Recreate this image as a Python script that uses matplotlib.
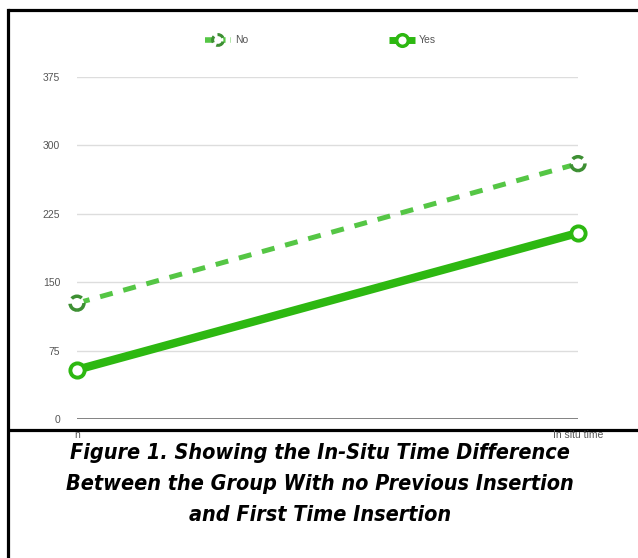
import matplotlib
matplotlib.use("Agg")
import matplotlib.pyplot as plt

# Data
categories = ["n", "In situ time"]
series_names = ["No", "Yes"]
no_values = [127, 280]
yes_values = [54, 204]
y_ticks = [0, 75, 150, 225, 300, 375]
caption_lines = [
    "Figure 1. Showing the In-Situ Time Difference",
    "Between the Group With no Previous Insertion",
    "and First Time Insertion",
]

W, H = 638, 558
fig = plt.figure(figsize=(W / 100, H / 100), dpi=100)
fig.patch.set_facecolor("white")

ax = fig.add_axes([77 / W, 1 - 419 / H, (578 - 77) / W, (419 - 77) / H])
x = list(range(len(categories)))

no_color = "#55c645"
no_edge = "#3d8f33"
yes_color = "#2db811"
no_dash = (0, (2.6, 2.2))
ring_dash = (0, (3.2, 1.6))

# "No" series: dashed line with dashed-ring markers
ax.plot(x, no_values, color=no_color, lw=3.6, linestyle=no_dash,
        dash_capstyle="butt", zorder=3, clip_on=False)
ax.scatter(x, no_values, s=100, facecolors="white", edgecolors=no_edge,
           linewidths=2.5, linestyles=ring_dash, zorder=4, clip_on=False)

# "Yes" series: thick solid line with ring markers
ax.plot(x, yes_values, color=yes_color, lw=6, solid_capstyle="round",
        zorder=3, clip_on=False)
ax.scatter(x, yes_values, s=105, facecolors="white", edgecolors=yes_color,
           linewidths=2.8, zorder=4, clip_on=False)

ax.set_xlim(0, 1)
ax.set_ylim(0, 375)
ax.set_yticks(y_ticks)
ax.set_yticklabels([str(v) for v in y_ticks])
ax.set_xticks(x)
ax.set_xticklabels(categories)
for s in ax.spines.values():
    s.set_visible(False)
ax.tick_params(axis="both", length=0, labelsize=7.5, labelcolor="#555555",
               labelfontfamily="Liberation Sans")
ax.tick_params(axis="y", pad=12)
ax.tick_params(axis="x", pad=8)
ax.grid(axis="y", color="#dddddd", lw=1)
ax.axhline(0, color="#777777", lw=2, zorder=2)
ax.set_axisbelow(True)

# Overlay in pixel units for the legend row and frame lines
lay = fig.add_axes([0, 0, 1, 1], zorder=-1)
lay.set_xlim(0, W)
lay.set_ylim(H, 0)
lay.axis("off")

legend_specs = [
    (series_names[0], 218, dict(color=no_color, lw=4, linestyle=(0, (1.4, 0.9))),
     dict(s=60, facecolors="white", edgecolors=no_edge, linewidths=2.2,
          linestyles=(0, (2.2, 1.3)))),
    (series_names[1], 402, dict(color=yes_color, lw=5),
     dict(s=70, facecolors="white", edgecolors=yes_color, linewidths=2.5)),
]
for name, cx, line_kw, pt_kw in legend_specs:
    lay.plot([cx - 13, cx + 13], [40, 40], solid_capstyle="butt",
             dash_capstyle="butt", **line_kw)
    lay.scatter([cx], [40], zorder=3, **pt_kw)
    lay.text(cx + 17, 40, name, ha="left", va="center", fontsize=7.5,
             family="Liberation Sans", color="#555555")

# Frame lines around the chart and caption
lw_frame = 2.3
lay.plot([8, W], [10, 10], color="black", lw=lw_frame, solid_capstyle="butt")
lay.plot([8, 8], [10, H], color="black", lw=lw_frame, solid_capstyle="projecting")
lay.plot([8, W], [430, 430], color="black", lw=lw_frame, solid_capstyle="butt")

# Caption
for i, line in enumerate(caption_lines):
    fig.text(320 / W, 1 - (453 + 31 * i) / H, line, ha="center", va="center",
             fontsize=15.5, fontweight="bold", fontstyle="italic",
             fontstretch="condensed", family="DejaVu Sans", color="black")

fig.savefig("out.png", dpi=100)
